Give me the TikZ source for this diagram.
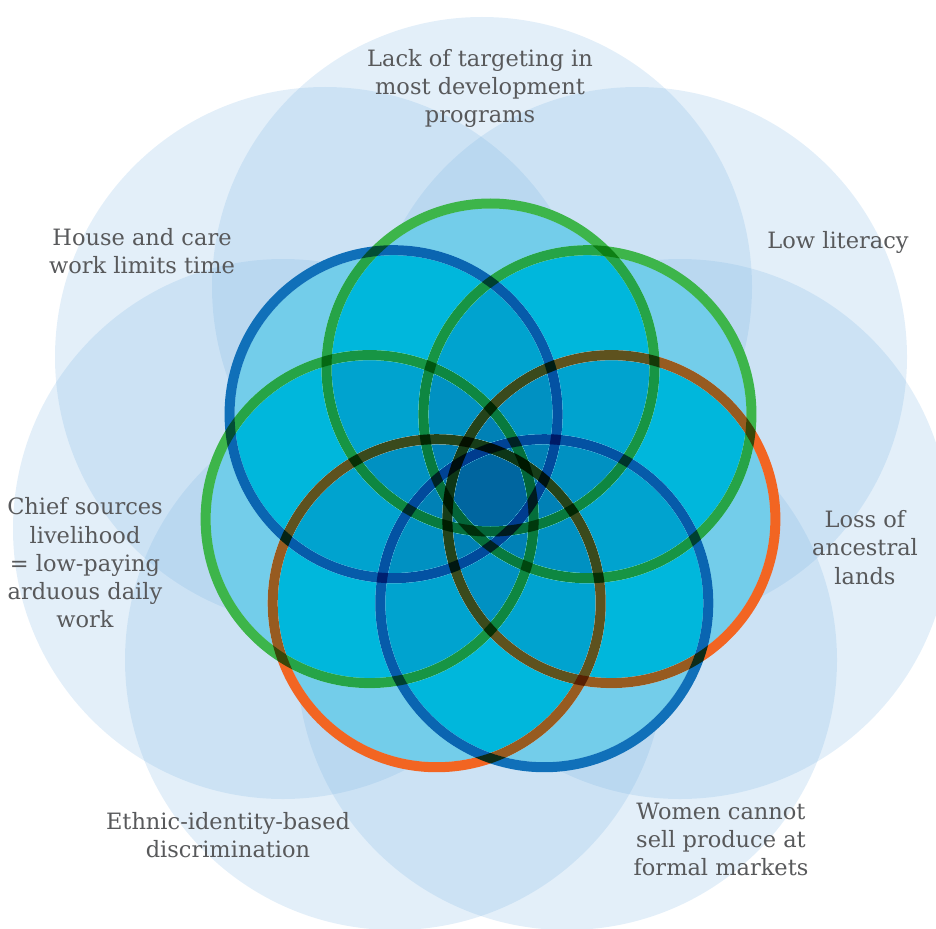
\documentclass[tikz,border=0pt]{standalone}
\usepackage{fontspec}
\setmainfont{DejaVu Serif}
\definecolor{paleblue}{RGB}{115,175,225}
\definecolor{basefill}{RGB}{227,230,249}
\definecolor{fillmult}{RGB}{221,228,240}
\definecolor{fillburn}{RGB}{107,255,255}
\definecolor{ringgreen}{RGB}{61,181,74}
\definecolor{ringblue}{RGB}{16,112,185}
\definecolor{ringorange}{RGB}{242,101,34}
\definecolor{ringtint}{RGB}{160,232,245}
\definecolor{labelgray}{RGB}{88,89,91}
\begin{document}
\begin{tikzpicture}[x=1pt,y=-1pt,
    txt/.style={align=center,text=labelgray,font=\fontsize{22.5}{28.3}\selectfont}]
  \useasboundingbox (0,0) rectangle (936,928);
  \clip (0,0) rectangle (936,928);
  % pale outer circles
  \foreach \cx/\cy in {482/287,325/357,637/357,283/529,680/529,395/660,567/660} {
      \fill[paleblue,fill opacity=0.2] (\cx,\cy) circle (270pt);
  }
  % inner flower
  \begin{scope}[shift={(490.5,491.5)},y=1pt]
      \pgfmathsetmacro\d{124};
      \pgfmathsetmacro\r{164};
      \pgfmathsetmacro\rin{159};
      \foreach \k in {0,...,6} {
          \fill[basefill] ({90+\k*360/7}:\d) circle (\rin pt);
      }
      \foreach \k in {0,...,6} {
          \fill[fillmult,blend mode=multiply] ({90+\k*360/7}:\d) circle (\rin pt);
          \fill[fillburn,blend mode=color burn] ({90+\k*360/7}:\d) circle (\rin pt);
      }
      % rings
      \begin{scope}[transparency group]
          \foreach \k/\col in {0/ringgreen,1/ringblue,2/ringgreen,3/ringorange,
                               4/ringblue,5/ringorange,6/ringgreen} {
              \draw[\col,line width=10pt,blend mode=multiply] ({90+\k*360/7}:\d) circle (\r pt);
          }
          \foreach \k in {0,...,6} {
              \foreach \j in {0,...,6} {
                  \ifnum\k=\j\else
                  \begin{scope}
                      \clip ({90+\j*360/7}:\d) circle (\rin pt);
                      \draw[ringtint,line width=10pt,blend mode=multiply] ({90+\k*360/7}:\d) circle (\r pt);
                  \end{scope}
                  \fi
              }
          }
      \end{scope}
  \end{scope}
  % labels
  \node[txt] (lack) at (480,88.5) {Lack of targeting in\\most development\\programs};
  \node[txt] (house) at (142,251) {House and care\\work limits time};
  \node[txt] (literacy) at (838,242.5) {Low literacy};
  \node[txt] (lands) at (865,547.5) {Loss of\\ancestral\\lands};
  \node[txt] (chief) at (85,563) {Chief sources\\livelihood\\= low-paying\\arduous daily\\work};
  \node[txt] (ethnic) at (228,835) {Ethnic-identity-based\\discrimination};
  \node[txt] (women) at (721,839.5) {Women cannot\\sell produce at\\formal markets};
\end{tikzpicture}
\end{document}
